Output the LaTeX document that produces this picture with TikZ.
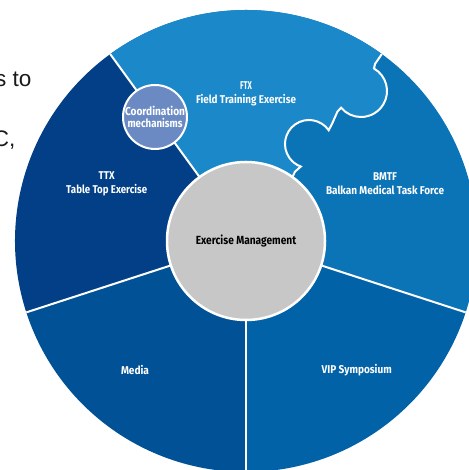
\documentclass[tikz,border=0pt]{standalone}
\usepackage{fontspec}
\usepackage{graphicx}
\usetikzlibrary{calc}
\newfontfamily\lf{Fira Sans}
\newfontfamily\arialf{Liberation Sans}
\newcommand\fitw[2]{\resizebox{#1}{\height}{#2}}
\definecolor{ftx}{HTML}{1B88C9}
\definecolor{bmtf}{HTML}{0B74B7}
\definecolor{vip}{HTML}{0262A8}
\definecolor{media}{HTML}{015196}
\definecolor{ttx}{HTML}{033F87}
\definecolor{coordc}{HTML}{6B8AC4}
\definecolor{grayc}{HTML}{C7C7C7}
\definecolor{inkc}{HTML}{1A1A1A}
\tikzset{
  divider/.style={draw=white, line width=2pt},
  seglabel/.style={text=white, align=center, inner sep=0pt,
    font=\lf\bfseries\fontsize{11.3}{13.8}\selectfont},
  bgtext/.style={text=inkc, inner sep=0pt, anchor=base east,
    font=\arialf\fontsize{22.5}{24}\selectfont},
}
\begin{document}
\begin{tikzpicture}[x=1pt,y=1pt]
\useasboundingbox (0,0) rectangle (468,470);
\coordinate (O) at (246,229);
% background text fragments
\node[bgtext] (t1) at (31.7,383.3) {s to};
\node[bgtext] (t2) at (15.5,323.3) {C,};
% sectors
\fill[bmtf] (O) -- ++(-18:231pt) arc[start angle=-18,end angle=126,radius=231pt] -- cycle;
\fill[vip] (O) -- ++(-90:231pt) arc[start angle=-90,end angle=-18,radius=231pt] -- cycle;
\fill[media] (O) -- ++(198:231pt) arc[start angle=198,end angle=270,radius=231pt] -- cycle;
\fill[ttx] (O) -- ++(126:231pt) arc[start angle=126,end angle=198,radius=231pt] -- cycle;
% FTX puzzle piece
\fill[ftx] (O) -- ++(126:231pt) arc[start angle=126,end angle=54,radius=231pt]
  -- (375,406) -- (374,401.5) arc[start angle=60,end angle=-140,radius=26pt]
  -- (337.5,358.5) -- (332,346) -- (328.66,339.77)
  arc[start angle=35,end angle=250,radius=24pt]
  -- (295,298.3) -- (292.4,292.9) -- cycle;
% dividers
\draw[divider] (O) -- ++(126:231pt);
\draw[divider] (O) -- ++(198:231pt);
\draw[divider] (O) -- ++(270:231pt);
\draw[divider] (O) -- ++(342:231pt);
\draw[divider, line join=miter] ($(O)+(54:231pt)$) -- (375,406) -- (374,401.5)
  arc[start angle=60,end angle=-140,radius=26pt]
  -- (337.5,358.5) -- (332,346) -- (328.66,339.77)
  arc[start angle=35,end angle=250,radius=24pt]
  -- (295,298.3) -- (292.4,292.9);
% circles
\node[circle, fill=coordc, draw=white, line width=2pt, minimum size=64pt,
  inner sep=0pt, text=white, align=center,
  font=\lf\bfseries\fontsize{11.5}{12.4}\selectfont] (cm) at (155,353)
  {\fitw{60pt}{Coordination}\\\fitw{55pt}{mechanisms}};
\node[circle, fill=grayc, draw=white, line width=2.5pt, minimum size=158pt,
  inner sep=0pt, text=black,
  font=\lf\bfseries\fontsize{11.8}{13.5}\selectfont] (em) at (O)
  {\fitw{100.5pt}{Exercise Management}};
% labels
\node[seglabel] (lftx) at (246,376) {\fitw{12pt}{FTX}\\\fitw{100pt}{Field Training Exercise}};
\node[seglabel] (lbmtf) at (385,286.3) {\fitw{24pt}{BMTF}\\\fitw{118pt}{Balkan Medical Task Force}};
\node[seglabel] (lttx) at (106.7,286.2) {\fitw{16pt}{TTX}\\\fitw{81pt}{Table Top Exercise}};
\node[seglabel] (lmedia) at (135,100) {\fitw{28pt}{Media}};
\node[seglabel] (lvip) at (356.7,100) {\fitw{70pt}{VIP Symposium}};
\end{tikzpicture}
\end{document}
